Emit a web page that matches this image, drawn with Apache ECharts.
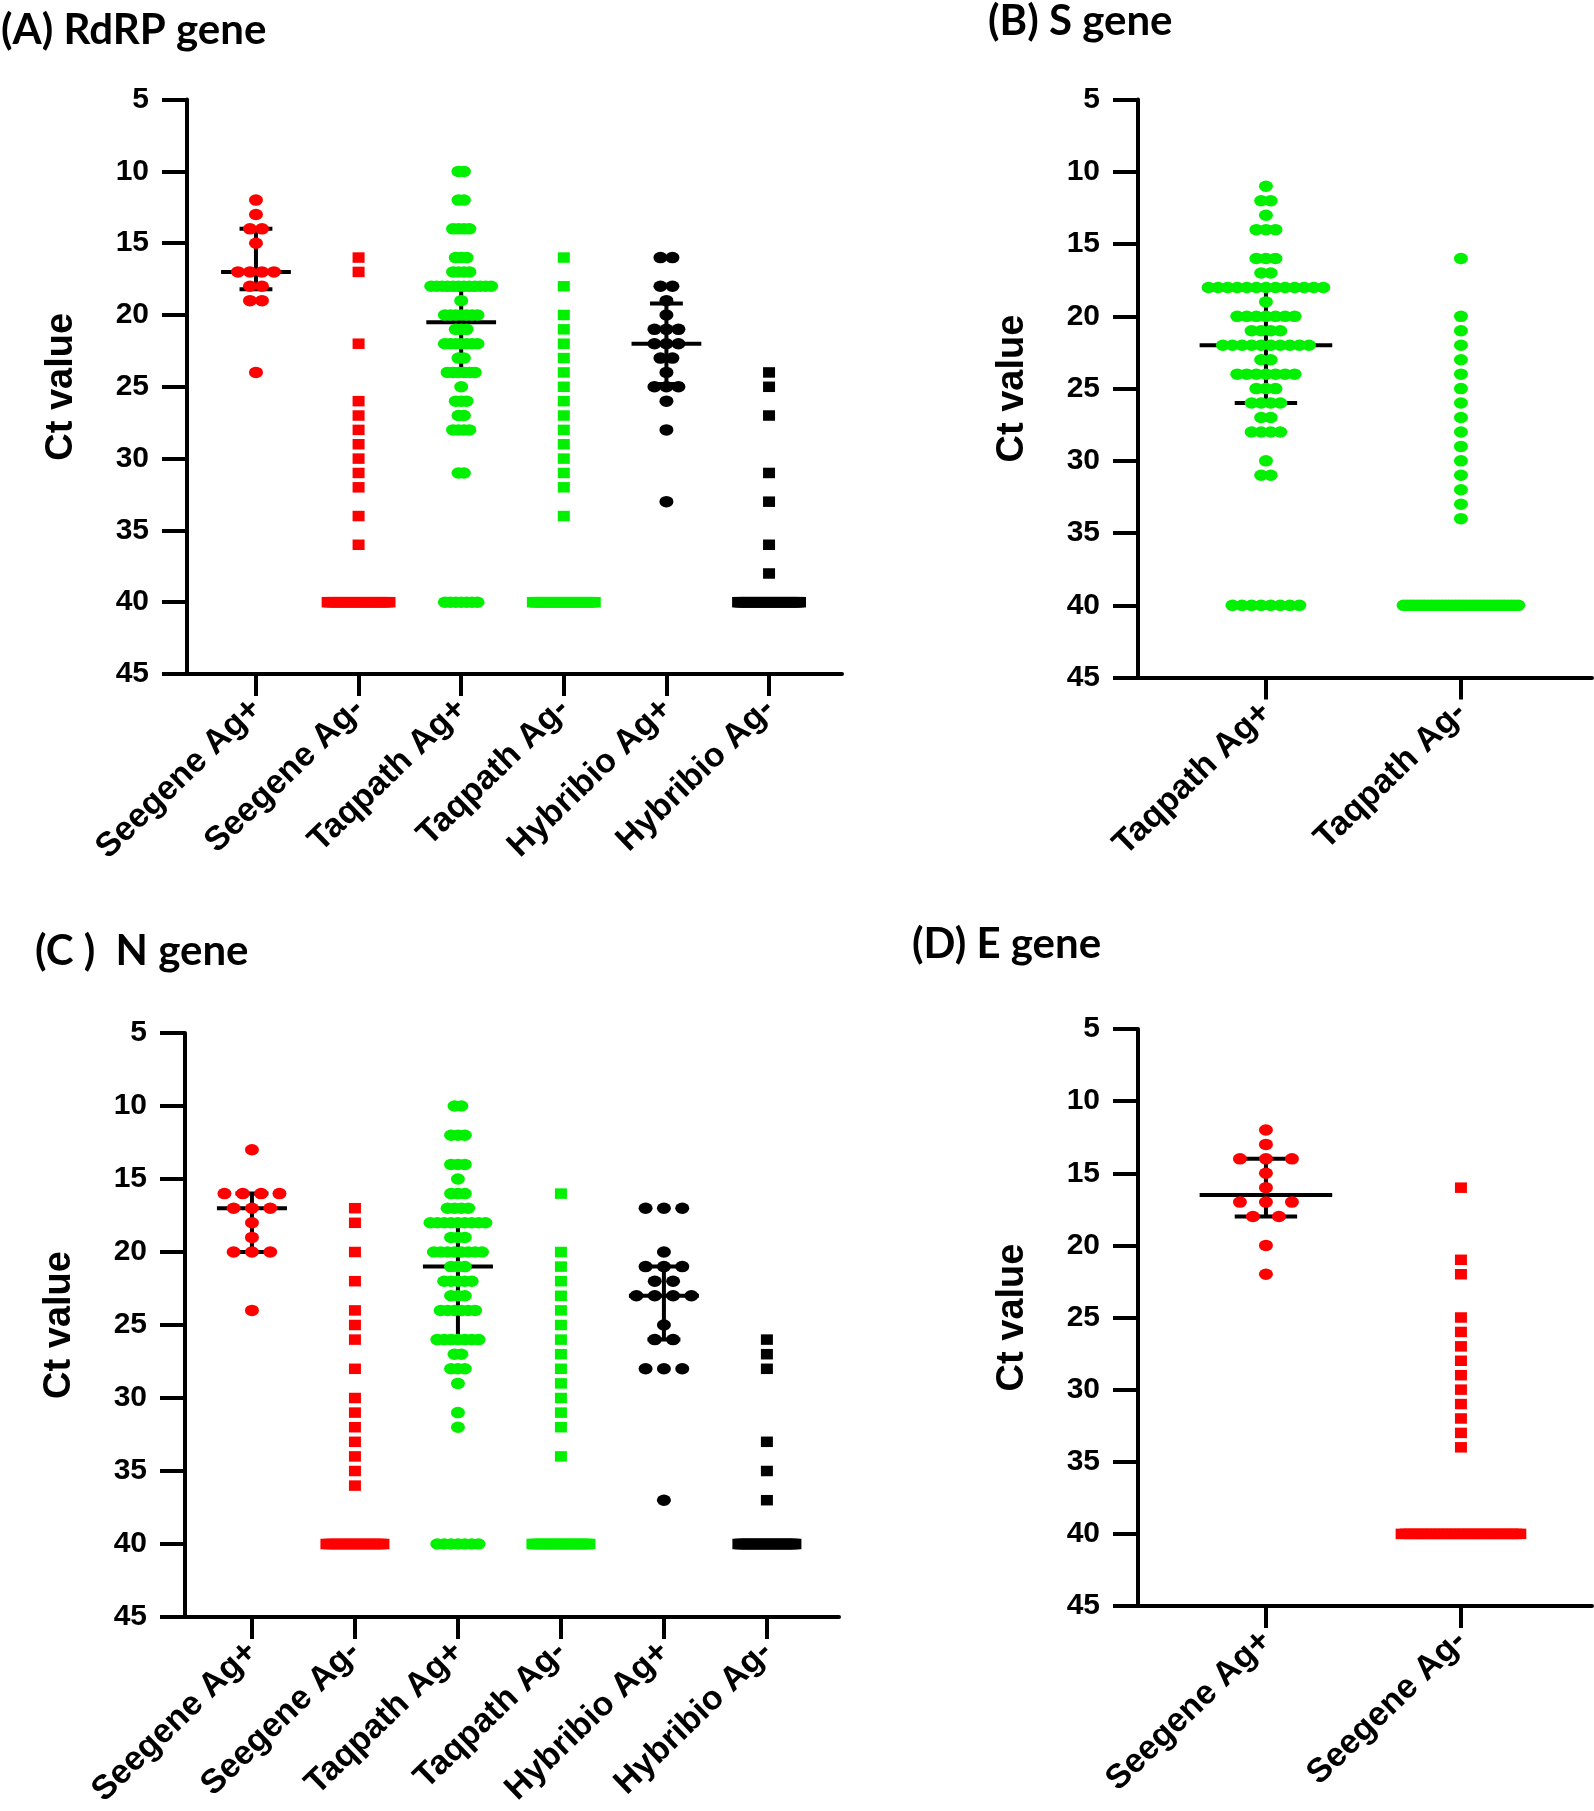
<!DOCTYPE html>
<html><head><meta charset="utf-8">
<script src="https://cdn.jsdelivr.net/npm/echarts@6/dist/echarts.min.js"></script>
<style>html,body{margin:0;padding:0;background:#fff}#c{width:1594px;height:1811px}</style>
</head><body><div id="c"></div>
<script>
// ================= DATA =================
// categories
const catsAC = ['Seegene Ag+', 'Seegene Ag-', 'Taqpath Ag+', 'Taqpath Ag-', 'Hybribio Ag+', 'Hybribio Ag-'];
const catsB = ['Taqpath Ag+', 'Taqpath Ag-'];
const catsD = ['Seegene Ag+', 'Seegene Ag-'];
const titles = ['(A) RdRP gene', '(B) S gene', '(C )  N gene', '(D) E gene'];
const yName = 'Ct value';

// each row: [Ct value, number of samples at that Ct]
// Panel A – RdRP gene
const A_seegenePos = [[12,1],[13,1],[14,2],[15,1],[17,4],[18,2],[19,2],[24,1]];
const A_seegeneNeg = [[16,1],[17,1],[22,1],[26,1],[27,1],[28,1],[29,1],[30,1],[31,1],[32,1],[34,1],[36,1],[40,24]];
const A_taqpathPos = [[10,2],[12,2],[14,4],[16,3],[17,4],[18,12],[19,1],[20,7],[21,3],[22,7],[23,2],[24,6],[25,1],[26,3],[27,2],[28,4],[31,2],[40,7]];
const A_taqpathNeg = [[16,1],[18,1],[20,1],[21,1],[22,1],[23,1],[24,1],[25,1],[26,1],[27,1],[28,1],[29,1],[30,1],[31,1],[32,1],[34,1],[40,28]];
const A_hybribioPos = [[16,2],[18,2],[19,1],[20,1],[21,3],[22,3],[23,2],[24,1],[25,3],[26,1],[28,1],[33,1]];
const A_hybribioNeg = [[24,1],[25,1],[27,1],[31,1],[33,1],[36,1],[38,1],[40,30]];
// [category index, median, lower quartile, upper quartile]
const A_stats = [[0,17,14,18.2],[2,20.5,18.2,23.8],[4,22,19.2,24.8]];

// Panel B – S gene
const B_taqpathPos = [[11,1],[12,2],[13,1],[14,3],[16,3],[17,2],[18,13],[19,1],[20,7],[21,4],[22,10],[23,2],[24,7],[25,3],[26,4],[27,2],[28,4],[30,1],[31,2],[40,8]];
const B_taqpathNeg = [[16,1],[20,1],[21,1],[22,1],[23,1],[24,1],[25,1],[26,1],[27,1],[28,1],[29,1],[30,1],[31,1],[32,1],[33,1],[34,1],[40,34]];
const B_stats = [[0,22,18,26]];

// Panel C – N gene
const C_seegenePos = [[13,1],[16,4],[17,3],[18,1],[19,1],[20,3],[24,1]];
const C_seegeneNeg = [[17,1],[18,1],[20,1],[22,1],[24,1],[25,1],[26,1],[28,1],[30,1],[31,1],[32,1],[33,1],[34,1],[35,1],[36,1],[40,22]];
const C_taqpathPos = [[10,2],[12,3],[14,3],[15,1],[16,3],[17,4],[18,9],[19,3],[20,8],[21,3],[22,5],[23,3],[24,6],[26,7],[27,2],[28,3],[29,1],[31,1],[32,1],[40,7]];
const C_taqpathNeg = [[16,1],[20,1],[21,1],[22,1],[23,1],[24,1],[25,1],[26,1],[27,1],[28,1],[29,1],[30,1],[31,1],[32,1],[34,1],[40,26]];
const C_hybribioPos = [[17,3],[20,1],[21,3],[22,2],[23,4],[25,1],[26,2],[28,3],[37,1]];
const C_hybribioNeg = [[26,1],[27,1],[28,1],[33,1],[35,1],[37,1],[40,30]];
const C_stats = [[0,17,16,20],[2,21,18,26],[4,23,21,26]];

// Panel D – E gene
const D_seegenePos = [[12,1],[13,1],[14,3],[15,1],[16,1],[17,3],[18,2],[20,1],[22,1]];
const D_seegeneNeg = [[16,1],[21,1],[22,1],[25,1],[26,1],[27,1],[28,1],[29,1],[30,1],[31,1],[32,1],[33,1],[34,1],[40,30]];
const D_stats = [[0,16.5,14,18]];

// y axis
const yMin = 5, yMax = 45, yStep = 5;

// ================= LAYOUT / STYLE =================
const RED = '#ff0000', GREEN = '#00f000', BLACK = '#000000';
const numFont = 'Liberation Sans, Arial, sans-serif';
const titleFont = 'Lato, sans-serif';
const DOT = [14, 11.5], SQ = [12, 10.5];

const panels = [
  { grid: {left:187, top:99.6, width:655, height:574.4}, min:-0.672, max:5.711, cats:catsAC, maxW:0.72, stats:A_stats,
    cols: [
      {d:A_seegenePos, c:RED, s:'circle', free:12},
      {d:A_seegeneNeg, c:RED, s:'rect', free:12},
      {d:A_taqpathPos, c:GREEN, s:'circle', free:12},
      {d:A_taqpathNeg, c:GREEN, s:'rect', free:12},
      {d:A_hybribioPos, c:BLACK, s:'circle', free:12},
      {d:A_hybribioNeg, c:BLACK, s:'rect', free:12}
    ]},
  { grid: {left:1138, top:99.6, width:454, height:578}, min:-0.656, max:1.672, cats:catsB, maxW:0.66, stats:B_stats,
    cols: [
      {d:B_taqpathPos, c:GREEN, s:'circle', free:12},
      {d:B_taqpathNeg, c:GREEN, s:'circle', free:12}
    ]},
  { grid: {left:185, top:1033, width:654, height:584}, min:-0.65, max:5.70, cats:catsAC, maxW:0.67, stats:C_stats,
    cols: [
      {d:C_seegenePos, c:RED, s:'circle', free:19},
      {d:C_seegeneNeg, c:RED, s:'rect', free:12},
      {d:C_taqpathPos, c:GREEN, s:'circle', free:12},
      {d:C_taqpathNeg, c:GREEN, s:'rect', free:12},
      {d:C_hybribioPos, c:BLACK, s:'circle', free:19},
      {d:C_hybribioNeg, c:BLACK, s:'rect', free:12}
    ]},
  { grid: {left:1138, top:1029, width:454, height:577}, min:-0.656, max:1.672, cats:catsD, maxW:0.67, stats:D_stats,
    cols: [
      {d:D_seegenePos, c:RED, s:'circle', free:26},
      {d:D_seegeneNeg, c:RED, s:'rect', free:12}
    ]}
];
const titlePos = [{left:1, top:9}, {left:988, top:0}, {left:35, top:930}, {left:912, top:923}];

// spread the samples of one Ct row side by side (dot-plot layout)
function spreadColumn(rows, catIdx, pxPerUnit, free, maxWpx, symW) {
  const maxN = Math.max.apply(null, rows.map(r => r[1]));
  const step = maxN > 1 ? Math.min(free, (maxWpx - symW) / (maxN - 1)) : free;
  const pts = [];
  rows.forEach(([ct, n]) => {
    for (let k = 0; k < n; k++) {
      const offPx = (k - (n - 1) / 2) * step;
      pts.push([catIdx + offPx / pxPerUnit, ct]);
    }
  });
  return pts;
}

const grids = [], xAxes = [], yAxes = [], series = [], titleComps = [];
panels.forEach((p, pi) => {
  grids.push(Object.assign({outerBoundsMode:'none', containLabel:false}, p.grid));
  const pxPerUnit = p.grid.width / (p.max - p.min);
  const idxs = p.cats.map((_, i) => i);
  xAxes.push({
    type:'value', gridIndex:pi, min:p.min, max:p.max,
    axisLine:{show:true, onZero:false, lineStyle:{color:'#000', width:4}},
    axisTick:{show:true, customValues:idxs, length:22, lineStyle:{color:'#000', width:4}},
    axisLabel:{show:true, customValues:idxs, formatter:v => p.cats[Math.round(v)] || '', rotate:44, margin:30,
      color:'#000', fontSize:34, fontWeight:'bold', fontFamily:numFont},
    splitLine:{show:false}
  });
  yAxes.push({
    type:'value', gridIndex:pi, inverse:true, min:yMin, max:yMax, interval:yStep,
    axisLine:{show:true, onZero:false, lineStyle:{color:'#000', width:4}},
    axisTick:{show:true, length:25, lineStyle:{color:'#000', width:4}},
    axisLabel:{margin:38, color:'#000', fontSize:30, fontWeight:'bold', fontFamily:numFont},
    splitLine:{show:false},
    name:yName, nameLocation:'middle', nameRotate:90, nameGap:106,
    nameTextStyle:{color:'#000', fontSize:38, fontWeight:'bold', fontFamily:numFont}
  });
  // median + interquartile range bars (drawn under the dots)
  series.push({
    type:'custom', xAxisIndex:pi, yAxisIndex:pi, z:5, silent:true,
    data:p.stats,
    encode:{x:0, y:[1,2,3]},
    renderItem:function(params, api) {
      const x = api.value(0);
      const med = api.coord([x, api.value(1)]);
      const q1 = api.coord([x, api.value(2)]);
      const q3 = api.coord([x, api.value(3)]);
      const mh = api.size([0.68, 0])[0] / 2;
      const ch = api.size([0.32, 0])[0] / 2;
      const st = {stroke:'#000', lineWidth:4};
      return {type:'group', children:[
        {type:'line', shape:{x1:q1[0], y1:q1[1], x2:q3[0], y2:q3[1]}, style:st},
        {type:'line', shape:{x1:q1[0]-ch, y1:q1[1], x2:q1[0]+ch, y2:q1[1]}, style:st},
        {type:'line', shape:{x1:q3[0]-ch, y1:q3[1], x2:q3[0]+ch, y2:q3[1]}, style:st},
        {type:'line', shape:{x1:med[0]-mh, y1:med[1], x2:med[0]+mh, y2:med[1]}, style:st}
      ]};
    }
  });
  p.cols.forEach((col, ci) => {
    const size = col.s === 'rect' ? SQ : DOT;
    series.push({
      type:'scatter', xAxisIndex:pi, yAxisIndex:pi, z:10, silent:true,
      symbol:col.s, symbolSize:size,
      itemStyle:{color:col.c, opacity:1},
      data:spreadColumn(col.d, ci, pxPerUnit, col.free, p.maxW * pxPerUnit, size[0])
    });
  });
  titleComps.push({
    text:titles[pi], left:titlePos[pi].left, top:titlePos[pi].top, padding:0,
    textStyle:{color:'#000', fontSize:42, fontWeight:'bold', fontFamily:titleFont}
  });
});

const chart = echarts.init(document.getElementById('c'), null, {renderer:'canvas'});
chart.setOption({
  backgroundColor:'#ffffff',
  animation:false,
  title:titleComps,
  grid:grids, xAxis:xAxes, yAxis:yAxes, series:series
});
</script>
</body></html>
